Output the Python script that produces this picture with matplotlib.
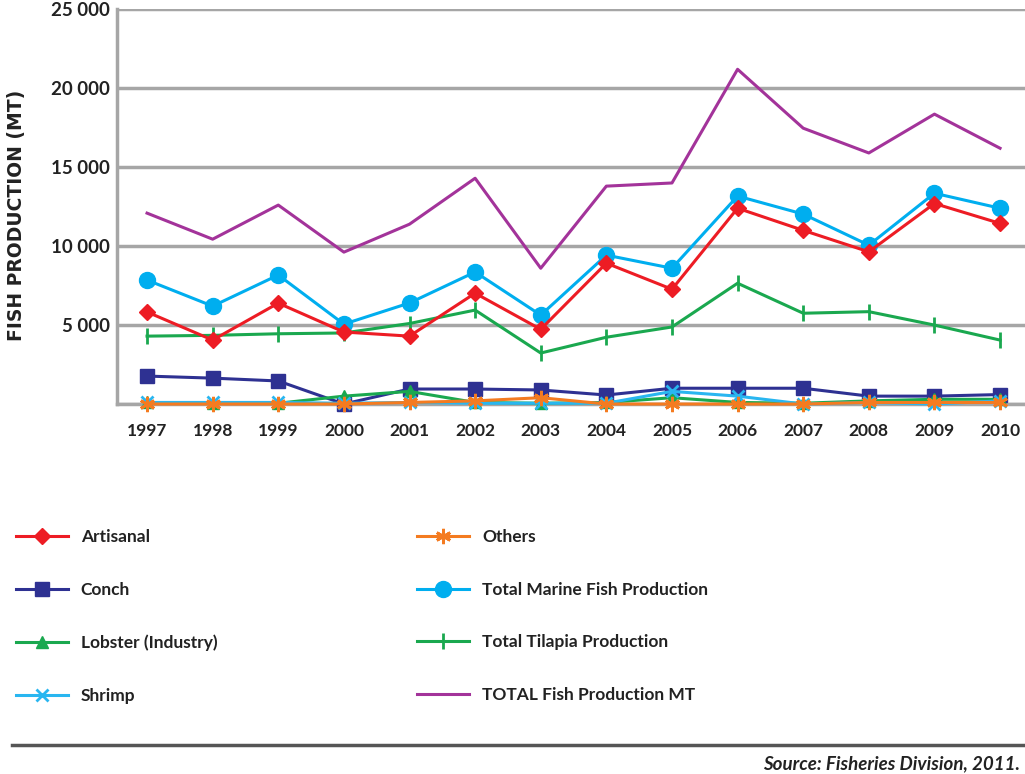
import matplotlib
matplotlib.use('Agg')
import matplotlib.pyplot as plt
import numpy as np

years = [1997, 1998, 1999, 2000, 2001, 2002, 2003, 2004, 2005, 2006, 2007, 2008, 2009, 2010]

artisanal = [5830, 4050, 6390, 4560, 4300, 7020, 4730, 8920, 7270, 12400, 11000, 9640, 12700, 11440]
conch = [1770, 1640, 1460, 0, 950, 950, 890, 570, 1000, 1000, 1000, 500, 500, 600]
lobster = [100, 50, 50, 500, 800, 100, 50, 100, 400, 100, 50, 200, 300, 300]
shrimp = [100, 100, 100, 50, 100, 50, 50, 50, 800, 500, 0, 100, 0, 200]
others = [0, 0, 0, 0, 100, 200, 400, 0, 0, 0, 0, 100, 100, 100]
total_marine = [7850, 6200, 8170, 5060, 6400, 8360, 5630, 9430, 8600, 13170, 12030, 10060, 13350, 12400]
tilapia = [4300, 4350, 4450, 4500, 5100, 5950, 3230, 4230, 4880, 7650, 5750, 5850, 5000, 4050]
total_fish = [12090, 10440, 12600, 9620, 11390, 14300, 8600, 13800, 14000, 21200, 17470, 15900, 18360, 16200]

ytick_vals = [0, 5000, 10000, 15000, 20000, 25000]
ytick_labels = ['', '5 000', '10 000', '15 000', '20 000', '25 000']

plt.rcParams['font.family'] = ['Lato', 'DejaVu Sans']

fig = plt.figure(figsize=(10.25, 7.74), dpi=100)
ax = fig.add_axes([0.114, 0.478, 0.886, 0.51])

lw = 2.2
l_marine, = ax.plot(years, total_marine, color='#00aeef', lw=lw, marker='o', ms=11.5, clip_on=False, zorder=3)
l_art, = ax.plot(years, artisanal, color='#ed1c24', lw=lw, marker='D', ms=8.5, clip_on=False, zorder=4)
l_total, = ax.plot(years, total_fish, color='#a3339a', lw=lw, clip_on=False, zorder=3)
l_til, = ax.plot(years, tilapia, color='#1aa84f', lw=lw, marker='|', ms=12, mew=2, clip_on=False, zorder=3)
l_conch, = ax.plot(years, conch, color='#2e3192', lw=lw, marker='s', ms=10, clip_on=False, zorder=5)
l_lob, = ax.plot(years, lobster, color='#1aa84f', lw=lw, marker='^', ms=9, clip_on=False, zorder=5)
l_shr, = ax.plot(years, shrimp, color='#29b6f0', lw=lw, marker='x', ms=9, mew=2, clip_on=False, zorder=5)
l_oth, = ax.plot(years, others, color='#f47b20', lw=lw, marker=(6, 2, 0), ms=11, mew=2, clip_on=False, zorder=6)

ax.set_xlim(1996.54, 2010.38)
ax.set_ylim(0, 25000)
ax.set_yticks(ytick_vals)
ax.set_yticklabels(ytick_labels, fontsize=13.5, fontweight='bold', color='#222222')
ax.set_xticks(years)
ax.set_xticklabels([str(y) for y in years], fontsize=12.5, fontweight='bold', color='#222222')
ax.tick_params(length=0, pad=5)
ax.tick_params(axis='x', pad=14)
ax.yaxis.grid(True, color='#a6a6a6', lw=2.5)
ax.set_axisbelow(True)
for s in ['top', 'right']:
    ax.spines[s].set_visible(False)
for s in ['left', 'bottom']:
    ax.spines[s].set_color('#a6a6a6')
    ax.spines[s].set_linewidth(2.5)
ax.set_ylabel('FISH PRODUCTION (MT)', fontsize=13.5, fontweight='bold', color='#222222',
              family=['DejaVu Sans'])
ax.yaxis.set_label_coords(-0.1, 0.478)

handles = [l_art, l_conch, l_lob, l_shr, l_oth, l_marine, l_til, l_total]
labels = ['Artisanal', 'Conch', 'Lobster (Industry)', 'Shrimp', 'Others',
          'Total Marine Fish Production', 'Total Tilapia Production', 'TOTAL Fish Production MT']
leg = fig.legend(handles, labels, ncol=2, loc='upper left', bbox_to_anchor=(0.0, 0.337),
                 frameon=False, handlelength=3.0, handletextpad=0.75, labelspacing=2.12,
                 columnspacing=11.5, numpoints=1, prop={'size': 12.5, 'weight': 'bold'})
for t in leg.get_texts():
    t.set_color('#222222')

fig.add_artist(plt.Line2D([0.012, 1.0], [0.0375, 0.0375], color='#555555', lw=2.5))
fig.text(0.995, 0.013, 'Source: Fisheries Division, 2011.', ha='right', va='center',
         fontsize=13.5, fontweight='bold', fontstyle='italic', color='#222222')

fig.savefig('out.png', dpi=100)
